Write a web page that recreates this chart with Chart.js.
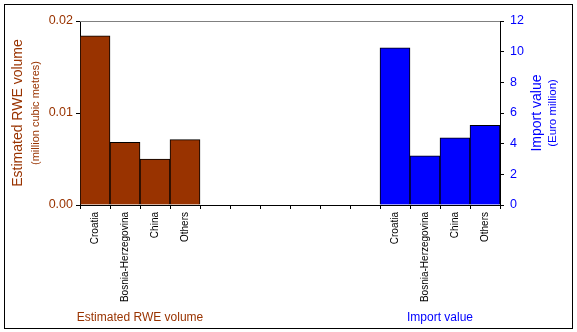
<!DOCTYPE html>
<html><head><meta charset="utf-8">
<script src="https://cdn.jsdelivr.net/npm/chart.js@4/dist/chart.umd.min.js"></script>
<style>html,body{margin:0;padding:0;background:#fff}#wrap{width:577px;height:332px}</style>
</head><body><div id="wrap"><canvas id="c" width="577" height="332"></canvas></div>
<script>
const categories = ['Croatia','Bosnia-Herzegovina','China','Others','','','','','','','Croatia','Bosnia-Herzegovina','China','Others'];
const rweVolume = [0.0184,0.0068,0.0050,0.0071,null,null,null,null,null,null,null,null,null,null];
const importValue = [null,null,null,null,null,null,null,null,null,null,10.25,3.2,4.38,5.2];
const leftTicks = [0,0.01,0.02];
const rightTicks = [0,2,4,6,8,10,12];

const BROWN = '#993300', BLUE = '#0000FF';
const FONT = 'Liberation Sans, Arial, sans-serif';

const deco = {
  id: 'deco',
  beforeDraw(chart) {
    const c = chart.ctx; c.save();
    c.fillStyle = '#fff'; c.fillRect(0,0,chart.width,chart.height);
    c.strokeStyle = '#000'; c.lineWidth = 1; c.strokeRect(4.5,4.5,568,324);
    c.restore();
  },
  beforeDatasetsDraw(chart) {
    const c = chart.ctx, a = chart.chartArea; c.save();
    c.strokeStyle = '#808080'; c.lineWidth = 1;
    c.beginPath(); c.moveTo(a.left, Math.round(a.top)+0.5); c.lineTo(a.right, Math.round(a.top)+0.5); c.stroke();
    c.restore();
  },
  afterDraw(chart) {
    const c = chart.ctx, a = chart.chartArea; c.save();
    const midY = (a.top + a.bottom) / 2;
    c.textAlign = 'center'; c.textBaseline = 'middle';
    // left title
    c.fillStyle = BROWN;
    c.save(); c.translate(18, midY); c.rotate(-Math.PI/2);
    c.font = '14px ' + FONT; c.fillText('Estimated RWE volume', 0, 0); c.restore();
    c.save(); c.translate(36, midY); c.rotate(-Math.PI/2);
    c.font = '11px ' + FONT; c.fillText('(million cubic metres)', 0, 0); c.restore();
    // right title
    c.fillStyle = BLUE;
    c.save(); c.translate(537, midY); c.rotate(-Math.PI/2);
    c.font = '14px ' + FONT; c.fillText('Import value', 0, 0); c.restore();
    c.save(); c.translate(553, midY); c.rotate(-Math.PI/2);
    c.font = '11.5px ' + FONT; c.fillText('(Euro million)', 0, 0); c.restore();
    // group labels
    const x = chart.scales.x;
    c.font = '12px ' + FONT;
    c.fillStyle = BROWN;
    c.fillText('Estimated RWE volume', (x.getPixelForValue(0)+x.getPixelForValue(3))/2, 318);
    c.fillStyle = BLUE;
    c.fillText('Import value', (x.getPixelForValue(10)+x.getPixelForValue(13))/2, 318);
    c.restore();
  }
};

new Chart(document.getElementById('c'), {
  type: 'bar',
  data: {
    labels: categories,
    datasets: [
      { label: 'Estimated RWE volume', data: rweVolume, yAxisID: 'y', backgroundColor: BROWN, borderColor: '#000', borderWidth: 1, barPercentage: 1, categoryPercentage: 1, grouped: false },
      { label: 'Import value', data: importValue, yAxisID: 'y1', backgroundColor: BLUE, borderColor: '#000', borderWidth: 1, barPercentage: 1, categoryPercentage: 1, grouped: false }
    ]
  },
  options: {
    responsive: false, animation: false, devicePixelRatio: 1,
    layout: { padding: { top: 21, left: 0, right: 0, bottom: 0 }, autoPadding: false },
    plugins: { legend: { display: false }, tooltip: { enabled: false } },
    scales: {
      x: {
        offset: true,
        grid: { offset: true, drawOnChartArea: false, drawTicks: true, tickLength: 4, tickColor: '#000' },
        border: { color: '#000', width: 1 },
        ticks: { autoSkip: false, minRotation: 90, maxRotation: 90, padding: 3, color: '#000', font: { family: FONT, size: 10 } },
        afterFit(s) { s.height = 127; }
      },
      y: {
        position: 'left', min: 0, max: 0.02,
        afterBuildTicks(s) { s.ticks = leftTicks.map(v => ({ value: v })); },
        grid: { drawOnChartArea: false, drawTicks: true, tickLength: 4, tickColor: '#000' },
        border: { color: '#000', width: 1 },
        ticks: { padding: 3, color: BROWN, font: { family: FONT, size: 12.5 }, callback: v => v.toFixed(2) },
        afterFit(s) { s.width = 80; }
      },
      y1: {
        position: 'right', min: 0, max: 12,
        afterBuildTicks(s) { s.ticks = rightTicks.map(v => ({ value: v })); },
        grid: { drawOnChartArea: false, drawTicks: true, tickLength: 4, tickColor: '#000' },
        border: { color: '#000', width: 1 },
        ticks: { padding: 6, color: BLUE, font: { family: FONT, size: 12.5 } },
        afterFit(s) { s.width = 77; }
      }
    }
  },
  plugins: [deco]
});
</script>
</body></html>
